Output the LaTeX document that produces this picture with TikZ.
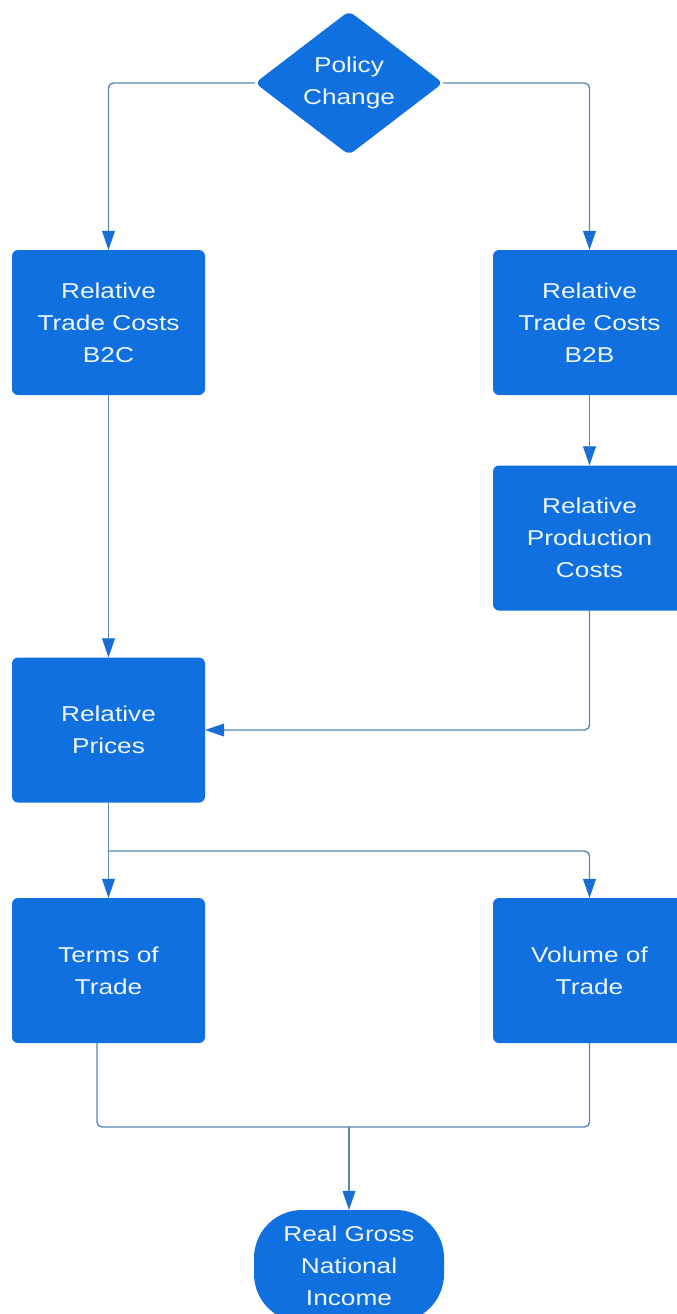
\documentclass[tikz,border=0pt]{standalone}
\usepackage{fontspec}
\setmainfont{Liberation Sans}[FakeStretch=1.22]
\usetikzlibrary{shapes.geometric,arrows.meta,positioning}
\definecolor{boxblue}{RGB}{17,112,224}
\definecolor{linecol}{RGB}{88,135,180}
\definecolor{tipblue}{RGB}{24,110,215}
\definecolor{txt}{RGB}{238,246,250}
\tikzset{
  boxnode/.style={draw=none, fill=boxblue, rounded corners=6pt, minimum width=193pt, minimum height=145pt, text=txt, align=center, font=\fontsize{21.5}{32}\selectfont, inner sep=0pt},
  conn/.style={draw=linecol, line width=1.4pt, rounded corners=5pt},
  arr/.style={conn, -{Triangle[length=19pt,width=13pt,color=tipblue,fill=tipblue,line width=0.5pt]}}
}
\begin{document}
\begin{tikzpicture}[x=1pt,y=-1pt]
\clip (0,0) rectangle (677,1314);
\useasboundingbox (0,0) rectangle (677,1314);
\node[shape=diamond, fill=boxblue, rounded corners=6pt, minimum width=188pt, minimum height=140pt, inner sep=0pt, text=txt, align=center, font=\fontsize{21.5}{32}\selectfont] (pol) at (349,83) {Policy\\Change};
\node[boxnode] (b2c) at (108.5,322.5) {Relative\\Trade Costs\\B2C};
\node[boxnode] (b2b) at (589.5,322.5) {Relative\\Trade Costs\\B2B};
\node[boxnode] (prod) at (589.5,538) {Relative\\Production\\Costs};
\node[boxnode] (price) at (108.5,730) {Relative\\Prices};
\node[boxnode] (tot) at (108.5,970.5) {Terms of\\Trade};
\node[boxnode] (vol) at (589.5,970.5) {Volume of\\Trade};
\node[draw=none, fill=boxblue, rounded corners=48pt, minimum width=190pt, minimum height=112pt, inner sep=0pt, text=txt, align=center, font=\fontsize{21.5}{32}\selectfont] (rgni) at (349,1266) {Real Gross\\National\\Income};
\coordinate (j1) at (108.5,851);
\coordinate (j2) at (349,1127);
\draw[arr] (pol.west) -| (b2c.north);
\draw[arr] (pol.east) -| (b2b.north);
\draw[arr] (b2c.south) -- (price.north);
\draw[arr] (b2b.south) -- (prod.north);
\draw[arr] (prod.south) |- (price.east);
\draw[arr] (price.south) -- (tot.north);
\draw[arr] (j1) -| (vol.north);
\draw[conn] ([xshift=-11.5pt]tot.south) |- (j2);
\draw[conn] (vol.south) |- (j2);
\draw[arr] (j2) -- (rgni.north);
\end{tikzpicture}
\end{document}
